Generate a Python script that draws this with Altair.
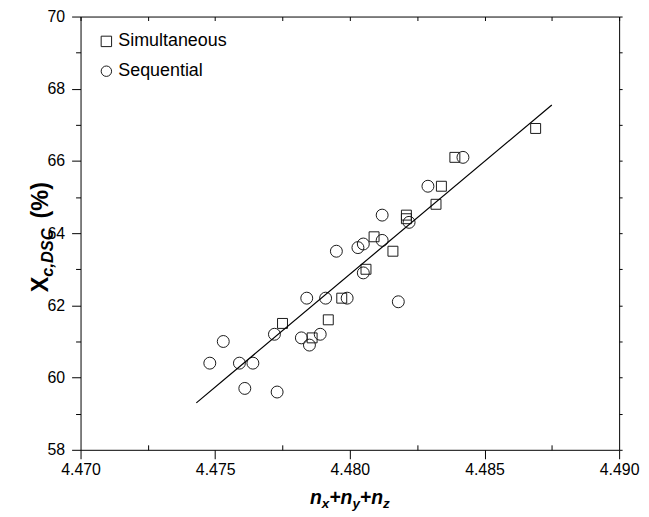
import altair as alt
import pandas as pd

# ---------------- data ----------------
sim_x = [4.4839, 4.4834, 4.4832, 4.4821, 4.4821, 4.4809, 4.4816, 4.4806,
         4.4797, 4.4775, 4.4792, 4.4786, 4.4869]
sim_y = [66.1, 65.3, 64.8, 64.5, 64.4, 63.9, 63.5, 63.0,
         62.2, 61.5, 61.6, 61.1, 66.9]

seq_x = [4.4842, 4.4829, 4.4812, 4.4822, 4.4812, 4.4805, 4.4803, 4.4795,
         4.4805, 4.4784, 4.4791, 4.4799, 4.4818, 4.4772, 4.4753, 4.4782,
         4.4789, 4.4785, 4.4748, 4.4759, 4.4764, 4.4761, 4.4773]
seq_y = [66.1, 65.3, 64.5, 64.3, 63.8, 63.7, 63.6, 63.5,
         62.9, 62.2, 62.2, 62.2, 62.1, 61.2, 61.0, 61.1,
         61.2, 60.9, 60.4, 60.4, 60.4, 59.7, 59.6]

fit_x = [4.4743, 4.4875]
fit_y = [59.3, 67.55]

x_major = [4.470, 4.475, 4.480, 4.485, 4.490]
x_minor = [4.4725, 4.4775, 4.4825, 4.4875]
x_top = [4.470, 4.4725, 4.475, 4.4775, 4.480, 4.4825, 4.485, 4.4875, 4.490]
y_major = [58, 60, 62, 64, 66, 68, 70]
y_minor = [59, 61, 63, 65, 67, 69]
y_right = [58, 59, 60, 61, 62, 63, 64, 65, 66, 67, 68, 69, 70]
methods = ["Simultaneous", "Sequential"]

# ---------------- layout ----------------
W, H = 542, 436
FONT = "Liberation Sans"
INK = "#1a1a1a"

pts = pd.DataFrame({
    "x": sim_x + seq_x,
    "y": sim_y + seq_y,
    "method": [methods[0]] * len(sim_x) + [methods[1]] * len(seq_x),
})
fit = pd.DataFrame({"x": fit_x, "y": fit_y})
one = pd.DataFrame({"a": [0]})

xs = alt.Scale(domain=[4.470, 4.490], nice=False, zero=False)
ys = alt.Scale(domain=[58, 70], nice=False, zero=False)
shape_scale = alt.Scale(domain=methods, range=["square", "circle"])

common = dict(grid=False, title=None, domainColor="black", tickColor="black",
              domainWidth=1, tickWidth=1)

ax_bottom = alt.Axis(orient="bottom", values=x_major, format=".3f", tickSize=9,
                     labelFontSize=16, labelFont=FONT, labelColor="black",
                     labelPadding=3, labelFlush=False, labelOverlap=False, **common)
ax_left = alt.Axis(orient="left", values=y_major, format="d", tickSize=9,
                   labelFontSize=16, labelFont=FONT, labelColor="black",
                   labelPadding=7, labelFlush=False, labelOverlap=False, **common)

ax_bottom_minor = alt.Axis(orient="bottom", values=x_minor, tickSize=5, offset=-5,
                           domain=False, labels=False, **common)
ax_left_minor = alt.Axis(orient="left", values=y_minor, tickSize=5,
                         domain=False, labels=False, **common)

ax_top_dom = alt.Axis(orient="top", ticks=False, labels=False, **common)
ax_right_dom = alt.Axis(orient="right", ticks=False, labels=False, **common)

ax_top_ticks = alt.Axis(orient="top", values=x_top, tickSize=4, offset=-4,
                        domain=False, labels=False, **common)
ax_right_ticks = alt.Axis(orient="right", values=y_right, tickSize=3,
                          domain=False, labels=False, **common)

legend = alt.Legend(orient="none", legendX=17, legendY=16, title=None,
                    labelFontSize=18, labelFont=FONT, labelColor="black",
                    symbolStrokeColor=INK, symbolStrokeWidth=1, symbolSize=110,
                    rowPadding=12, labelOffset=3, padding=0)

def point_layer(method, size, xaxis, yaxis):
    return alt.Chart(pts).transform_filter(
        alt.datum.method == method
    ).mark_point(filled=False, strokeWidth=1, color=INK, opacity=1, size=size).encode(
        x=alt.X("x:Q", scale=xs, axis=xaxis),
        y=alt.Y("y:Q", scale=ys, axis=yaxis),
        shape=alt.Shape("method:N", scale=shape_scale, legend=legend),
    )

squares = point_layer(methods[0], 100, ax_bottom, ax_left)
circles = point_layer(methods[1], 144, ax_bottom_minor, ax_left_minor)

line = alt.Chart(fit).mark_line(color="black", strokeWidth=1.2).encode(
    x=alt.X("x:Q", scale=xs, axis=ax_top_dom),
    y=alt.Y("y:Q", scale=ys, axis=ax_right_dom),
)

frame_ticks = alt.Chart(fit).mark_point(opacity=0).encode(
    x=alt.X("x:Q", scale=xs, axis=ax_top_ticks),
    y=alt.Y("y:Q", scale=ys, axis=ax_right_ticks),
)

# ---------------- axis titles with subscripts ----------------
WID = {"n": 0.611, "x": 0.556, "y": 0.556, "z": 0.5, "+": 0.584,
       "X": 0.667, "c": 0.556, ",": 0.278, "D": 0.722, "S": 0.667, "C": 0.722,
       " ": 0.278, "(": 0.333, "%": 0.889, ")": 0.333}


def tw(s, fs):
    return sum(WID.get(ch, 0.6) for ch in s) * fs


MAIN, SUB, SHIFT = 19.5, 13.5, 4
x_pieces = [("n", MAIN, 0), ("x", SUB, SHIFT), ("+", MAIN, 0), ("n", MAIN, 0),
            ("y", SUB, SHIFT), ("+", MAIN, 0), ("n", MAIN, 0), ("z", SUB, SHIFT)]
total = sum(tw(t, f) for t, f, _ in x_pieces)
cx = W / 2 - total / 2
x_base = 491
title_layers = []
for t, f, sh in x_pieces:
    title_layers.append(
        alt.Chart(one).mark_text(align="left", baseline="alphabetic", font=FONT,
                                 fontWeight="bold", fontStyle="italic", fontSize=f,
                                 color="black").encode(
            x=alt.value(cx), y=alt.value(x_base + sh), text=alt.value(t)))
    cx += tw(t, f)

YMAIN, YSUB, GAP = 23.5, 16.5, 10
y_pieces = [("X", YMAIN, 0, "normal"), ("c,DSC", YSUB, 5, "italic"), ("(%)", YMAIN, 0, "normal")]
ytotal = sum(tw(t, f) for t, f, _, _ in y_pieces) + GAP
cy = 222 + ytotal / 2
y_base = -33
for t, f, sh, st in y_pieces:
    title_layers.append(
        alt.Chart(one).mark_text(align="left", baseline="alphabetic", font=FONT,
                                 fontWeight="bold", fontStyle=st, fontSize=f, angle=270,
                                 color="black").encode(
            x=alt.value(y_base + sh), y=alt.value(cy), text=alt.value(t)))
    cy -= tw(t, f) + (GAP if t == "c,DSC" else 0)

chart = alt.layer(squares, circles, line, frame_ticks, *title_layers).resolve_axis(
    x="independent", y="independent"
).properties(
    width=W, height=H,
    autosize=alt.AutoSizeParams(type="none"),
    padding={"left": 73, "top": 7, "right": 22, "bottom": 62},
    background="white",
).configure_view(stroke=None)

chart.save("out.html", embed_options={"renderer": "svg", "actions": False})
